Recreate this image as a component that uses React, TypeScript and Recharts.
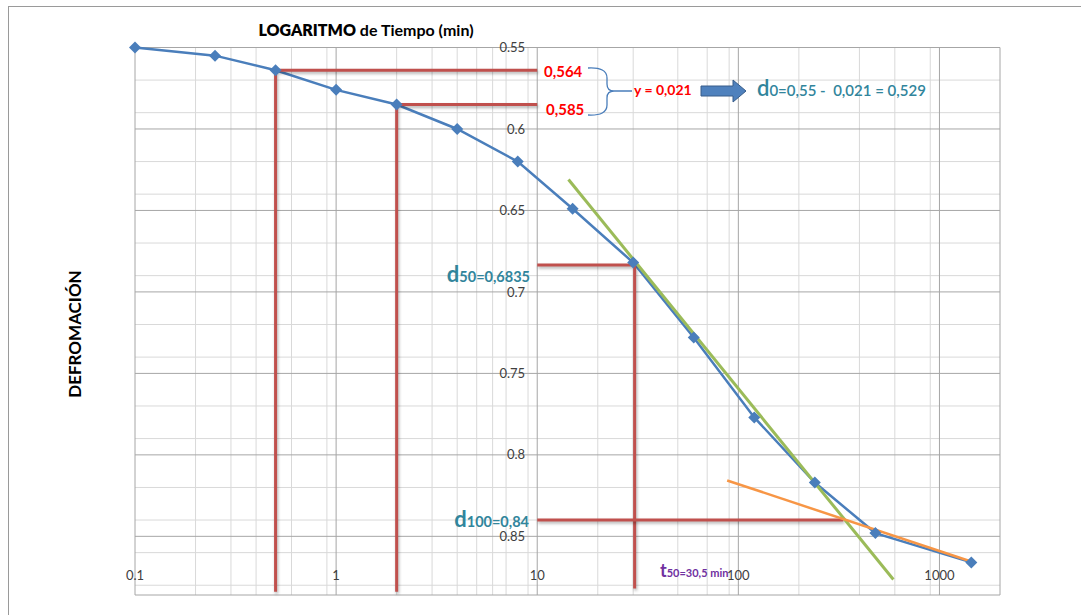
import React from "react";
import {
  LineChart,
  Line,
  XAxis,
  YAxis,
  CartesianGrid,
  ReferenceDot,
} from "recharts";

// lecturas del ensayo de consolidación
const tiempos = [0.1, 0.25, 0.5, 1, 2, 4, 8, 15, 30, 60, 120, 240, 480, 1440];
const deformaciones = [
  0.55, 0.555, 0.564, 0.576, 0.585, 0.6, 0.62, 0.649, 0.682, 0.728, 0.777,
  0.817, 0.848, 0.866,
];

const xTicks = [0.1, 1, 10, 100, 1000];
const yTicks = [0.55, 0.6, 0.65, 0.7, 0.75, 0.8, 0.85];
const X_MIN = 0.1;
const X_MAX = 2000;
const Y_MIN = 0.55;
const Y_MAX = 0.886;

// construcción de Casagrande
const tiemposD0 = [0.5, 2];
const lecturasD0 = [0.564, 0.585];
const d50 = 0.6835;
const t50 = 30.5;
const d100 = 0.84;
const tInterseccion = 333;
const tangenteT = [14.3, 590];
const tangenteD = [0.631, 0.8765];
const asintotaT = [88, 1400];
const asintotaD = [0.8157, 0.865];

const serie = tiempos.map((t, i) => ({ t, d: deformaciones[i] }));
const pares = (ts: number[], ds: number[]) => ts.map((t, i) => ({ t, d: ds[i] }));

const lineasD0 = tiemposD0.map((t, i) =>
  pares([10, t, t], [lecturasD0[i], lecturasD0[i], Y_MAX - 0.002])
);
const lineaD50 = pares([10, t50, t50], [d50, d50, Y_MAX - 0.004]);
const lineaD100 = pares([10, tInterseccion], [d100, d100]);

// rejilla logarítmica
const decadas = [0.1, 1, 10, 100, 1000];
const menoresX: number[] = [];
decadas.forEach((dec) => {
  for (let k = 2; k <= 9; k++) {
    const v = +(dec * k).toPrecision(3);
    if (v < X_MAX) menoresX.push(v);
  }
});
const menoresY: number[] = [];
for (let i = 0; i <= 33; i++) {
  if (i % 5 !== 0) menoresY.push(+(Y_MIN + i * 0.01).toFixed(2));
}

const FONT = "Lato, 'Open Sans', sans-serif";
const AZUL = "#4a7ebb";
const ROJO = "#c0504d";
const TEAL = "#31859c";

const Diamante = (props: any) => {
  const { cx, cy } = props;
  if (cx == null || cy == null) return null;
  const s = 6;
  return (
    <polygon
      points={`${cx},${cy - s} ${cx + s},${cy} ${cx},${cy + s} ${cx - s},${cy}`}
      fill={AZUL}
    />
  );
};

const TickX = (props: any) => {
  const { x, y, payload } = props;
  return (
    <text
      x={x}
      y={y - 20}
      textAnchor="middle"
      dominantBaseline="central"
      fontSize={13}
      fontFamily={FONT}
      fill="#404040"
    >
      {String(payload.value)}
    </text>
  );
};

const sombra = { filter: "drop-shadow(1px 2px 1.5px rgba(0,0,0,0.3))" };

export default function App() {
  return (
    <div
      style={{
        position: "absolute",
        left: 0,
        top: 0,
        width: 1081,
        height: 615,
        background: "#fff",
        overflow: "hidden",
      }}
    >
      {/* marco del gráfico */}
      <div
        style={{
          position: "absolute",
          left: 8,
          top: 6,
          width: 1100,
          height: 640,
          borderTop: "1.5px solid #9a9a9a",
          borderLeft: "1.5px solid #9a9a9a",
        }}
      />
      <div style={{ position: "absolute", left: 0, top: 0 }}>
        <LineChart
          width={1081}
          height={615}
          data={serie}
          margin={{ top: 47.5, right: 81, left: 135, bottom: 0 }}
        >
          <CartesianGrid
            stroke="#d9d9d9"
            strokeWidth={1}
            horizontalValues={menoresY}
            verticalValues={menoresX}
          />
          <CartesianGrid
            stroke="#a6a6a6"
            strokeWidth={1}
            horizontalValues={[...yTicks, Y_MAX]}
            verticalValues={[...decadas, X_MAX]}
          />
          <XAxis
            dataKey="t"
            type="number"
            scale="log"
            domain={[X_MIN, X_MAX]}
            ticks={xTicks}
            axisLine={false}
            tickLine={false}
            tickSize={0}
            tickMargin={0}
            height={20}
            tick={<TickX />}
          />
          <YAxis hide type="number" reversed domain={[Y_MIN, Y_MAX]} />
          {yTicks.map((v) => (
            <ReferenceDot
              key={v}
              x={10}
              y={v}
              r={0.1}
              fill="none"
              stroke="none"
              label={{
                value: String(v),
                position: "left",
                offset: 12,
                fill: "#404040",
                fontSize: 13,
                fontFamily: FONT,
              }}
            />
          ))}
          <Line
            dataKey="d"
            stroke={AZUL}
            strokeWidth={2.5}
            dot={<Diamante />}
            activeDot={false}
            isAnimationActive={false}
          />
          {lineasD0.map((datos, i) => (
            <Line
              key={i}
              data={datos}
              dataKey="d"
              stroke={ROJO}
              strokeWidth={3}
              dot={false}
              activeDot={false}
              isAnimationActive={false}
              style={sombra}
            />
          ))}
          <Line
            data={lineaD50}
            dataKey="d"
            stroke={ROJO}
            strokeWidth={3}
            dot={false}
            activeDot={false}
            isAnimationActive={false}
            style={sombra}
          />
          <Line
            data={lineaD100}
            dataKey="d"
            stroke={ROJO}
            strokeWidth={3}
            dot={false}
            activeDot={false}
            isAnimationActive={false}
            style={sombra}
          />
          <Line
            data={pares(tangenteT, tangenteD)}
            dataKey="d"
            stroke="#9bbb59"
            strokeWidth={3}
            dot={false}
            activeDot={false}
            isAnimationActive={false}
          />
          <Line
            data={pares(asintotaT, asintotaD)}
            dataKey="d"
            stroke="#f79646"
            strokeWidth={2.5}
            dot={false}
            activeDot={false}
            isAnimationActive={false}
          />
        </LineChart>
      </div>

      {/* anotaciones */}
      <svg
        width={1081}
        height={615}
        style={{ position: "absolute", left: 0, top: 0, pointerEvents: "none" }}
        fontFamily={FONT}
      >
        <text x={366} y={36} textAnchor="middle" fontSize={16} fill="#000">
          <tspan fontWeight={800}>LOGARITMO</tspan>
          <tspan fontWeight={700}> de Tiempo (min)</tspan>
        </text>
        <text
          x={81}
          y={334}
          textAnchor="middle"
          fontSize={17}
          fontWeight={700}
          fill="#000"
          transform="rotate(-90 81 334)"
        >
          DEFROMACIÓN
        </text>

        <text x={544} y={77} fontSize={15} fontWeight={700} fill="#ff0000">
          0,564
        </text>
        <text x={546} y={115} fontSize={15} fontWeight={700} fill="#ff0000">
          0,585
        </text>
        <path
          d="M588,68 Q607,67 607,78 L607,84 Q607,91 614,91 Q607,91 607,98 L607,105 Q607,116 588,115 M614,91 L632,91"
          fill="none"
          stroke={AZUL}
          strokeWidth={1.3}
        />
        <text x={634} y={95} fontSize={14} fontWeight={700} fill="#ff0000">
          y = 0,021
        </text>
        <polygon
          points="701,86 733,86 733,80 746,91 733,102 733,96 701,96"
          fill="#4f81bd"
          stroke="#385d8a"
          strokeWidth={1}
        />
        <text x={757} y={96} fill={TEAL} fontWeight={600} style={{ whiteSpace: "pre" }}>
          <tspan fontSize={22}>d</tspan>
          <tspan fontSize={15}>{"0=0,55 -  0,021 = 0,529"}</tspan>
        </text>

        <text x={530} y={282} textAnchor="end" fill={TEAL} fontWeight={700}>
          <tspan fontSize={22}>d</tspan>
          <tspan fontSize={14.5}>50=0,6835</tspan>
        </text>
        <text x={529} y={527} textAnchor="end" fill={TEAL} fontWeight={700}>
          <tspan fontSize={22}>d</tspan>
          <tspan fontSize={14.5}>100=0,84</tspan>
        </text>
        <text x={660} y={577} fill="#7030a0" fontWeight={700}>
          <tspan fontSize={18}>t</tspan>
          <tspan fontSize={11}>50=30,5 min</tspan>
        </text>
      </svg>
    </div>
  );
}
